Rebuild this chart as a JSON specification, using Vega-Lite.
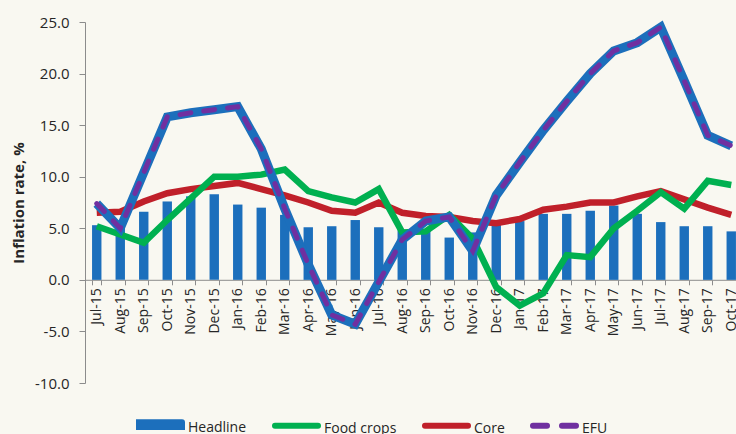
{
  "$schema": "https://vega.github.io/schema/vega-lite/v6.json",
  "autosize": {"type": "none"},
  "width": 651,
  "height": 361,
  "padding": {"left": 85, "top": 22, "right": 0, "bottom": 51},
  "background": "#f9f8f1",
  "config": {
    "view": {"stroke": null},
    "font": "Open Sans",
    "axis": {"labelColor": "#262626", "titleColor": "#262626", "domainColor": "#8c8c8c", "tickColor": "#8c8c8c", "grid": false, "labelFont": "Open Sans", "titleFont": "Open Sans"}
  },
  "data": {"values": [
    {"month": "Jul-15", "Headline": 5.3, "Food crops": 5.2, "Core": 6.5, "EFU": 7.4},
    {"month": "Aug-15", "Headline": 5.6, "Food crops": 4.4, "Core": 6.6, "EFU": 5.0},
    {"month": "Sep-15", "Headline": 6.6, "Food crops": 3.6, "Core": 7.6, "EFU": 10.4},
    {"month": "Oct-15", "Headline": 7.6, "Food crops": 5.8, "Core": 8.4, "EFU": 15.8},
    {"month": "Nov-15", "Headline": 8.1, "Food crops": 7.9, "Core": 8.8, "EFU": 16.2},
    {"month": "Dec-15", "Headline": 8.3, "Food crops": 10.0, "Core": 9.1, "EFU": 16.5},
    {"month": "Jan-16", "Headline": 7.3, "Food crops": 10.0, "Core": 9.4, "EFU": 16.8},
    {"month": "Feb-16", "Headline": 7.0, "Food crops": 10.2, "Core": 8.8, "EFU": 12.7},
    {"month": "Mar-16", "Headline": 6.3, "Food crops": 10.7, "Core": 8.2, "EFU": 6.9},
    {"month": "Apr-16", "Headline": 5.1, "Food crops": 8.6, "Core": 7.5, "EFU": 1.5},
    {"month": "May-16", "Headline": 5.2, "Food crops": 8.0, "Core": 6.7, "EFU": -3.4},
    {"month": "Jun-16", "Headline": 5.8, "Food crops": 7.5, "Core": 6.5, "EFU": -4.3},
    {"month": "Jul-16", "Headline": 5.1, "Food crops": 8.8, "Core": 7.5, "EFU": -0.2},
    {"month": "Aug-16", "Headline": 4.8, "Food crops": 4.6, "Core": 6.5, "EFU": 3.9},
    {"month": "Sep-16", "Headline": 4.8, "Food crops": 4.7, "Core": 6.2, "EFU": 5.7},
    {"month": "Oct-16", "Headline": 4.1, "Food crops": 6.3, "Core": 6.1, "EFU": 6.1},
    {"month": "Nov-16", "Headline": 4.6, "Food crops": 4.0, "Core": 5.7, "EFU": 2.8},
    {"month": "Dec-16", "Headline": 5.7, "Food crops": -0.7, "Core": 5.5, "EFU": 8.2},
    {"month": "Jan-17", "Headline": 5.7, "Food crops": -2.5, "Core": 5.9, "EFU": 11.4},
    {"month": "Feb-17", "Headline": 6.4, "Food crops": -1.3, "Core": 6.8, "EFU": 14.5},
    {"month": "Mar-17", "Headline": 6.4, "Food crops": 2.4, "Core": 7.1, "EFU": 17.3},
    {"month": "Apr-17", "Headline": 6.7, "Food crops": 2.2, "Core": 7.5, "EFU": 20.0},
    {"month": "May-17", "Headline": 7.2, "Food crops": 5.0, "Core": 7.5, "EFU": 22.2},
    {"month": "Jun-17", "Headline": 6.4, "Food crops": 6.7, "Core": 8.1, "EFU": 23.0},
    {"month": "Jul-17", "Headline": 5.6, "Food crops": 8.5, "Core": 8.6, "EFU": 24.5},
    {"month": "Aug-17", "Headline": 5.2, "Food crops": 6.9, "Core": 7.8, "EFU": 19.3},
    {"month": "Sep-17", "Headline": 5.2, "Food crops": 9.6, "Core": 7.0, "EFU": 14.0},
    {"month": "Oct-17", "Headline": 4.7, "Food crops": 9.2, "Core": 6.3, "EFU": 13.0}
  ]},
  "encoding": {
    "x": {
      "field": "month", "type": "ordinal", "sort": null,
      "scale": {"paddingInner": 0.6, "paddingOuter": 0.3, "range": [0, 658]},
      "axis": {"title": null, "labelAngle": -90, "labelFontSize": 14, "tickBand": "extent", "tickSize": 5, "labelPadding": 3, "offset": -103.2}
    }
  },
  "layer": [
    {
      "transform": [{"fold": ["Headline"], "as": ["series", "value"]}],
      "mark": {"type": "bar"},
      "encoding": {
        "y": {
          "field": "value", "type": "quantitative",
          "scale": {"domain": [-10, 25], "nice": false},
          "axis": {"title": "Inflation rate, %", "titleFontSize": 15, "titleFontWeight": "bold", "titlePadding": 8, "values": [-10, -5, 0, 5, 10, 15, 20, 25], "format": ".1f", "labelExpr": "replace(datum.label, '\u2212', '-')", "labelFontSize": 15, "tickSize": 6, "labelPadding": 10}
        },
        "color": {
          "field": "series", "type": "nominal",
          "scale": {"domain": ["Headline", "Food crops", "Core", "EFU"], "range": ["#1c6fbc", "#00b050", "#c0202a", "#7030a0"]},
          "legend": {
            "title": null, "orient": "none", "direction": "horizontal", "legendX": 51, "legendY": 378,
            "labelFontSize": 14, "labelColor": "#262626", "labelFont": "Open Sans", "labelOffset": 3, "columnPadding": 16,
            "symbolSize": 1849, "symbolStrokeWidth": 6,
            "encode": {
              "symbols": {"update": {
                "shape": {"signal": "datum.value === 'Headline' ? 'M-1,-0.11H1V0.11H-1Z' : 'stroke'"},
                "fill": {"signal": "datum.value === 'Headline' ? '#1c6fbc' : 'transparent'"},
                "stroke": {"signal": "datum.value === 'Headline' ? 'transparent' : (datum.value === 'Food crops' ? '#00b050' : (datum.value === 'Core' ? '#c0202a' : '#7030a0'))"},
                "strokeWidth": {"value": 6},
                "strokeCap": {"value": "round"},
                "strokeDash": {"signal": "datum.value === 'EFU' ? [14, 15] : [1, 0]"},
                "size": {"value": 1849},
                "opacity": {"value": 1}
              }},
              "labels": {"update": {"dy": {"value": 3}}}
            }
          }
        }
      }
    },
    {
      "transform": [{"fold": ["Core", "Food crops"], "as": ["series", "value"]}],
      "mark": {"type": "line", "strokeWidth": 6.5},
      "encoding": {
        "y": {"field": "value", "type": "quantitative"},
        "color": {"field": "series", "type": "nominal"},
        "order": {"field": "series", "sort": "ascending"}
      }
    },
    {
      "mark": {"type": "line", "strokeWidth": 9, "color": "#1c6fbc"},
      "encoding": {
        "y": {"field": "EFU", "type": "quantitative"}
      }
    },
    {
      "transform": [{"fold": ["EFU"], "as": ["series", "value"]}],
      "mark": {"type": "line", "strokeWidth": 5, "strokeDash": [11, 13], "strokeCap": "round"},
      "encoding": {
        "y": {"field": "value", "type": "quantitative"},
        "color": {"field": "series", "type": "nominal"}
      }
    }
  ]
}
